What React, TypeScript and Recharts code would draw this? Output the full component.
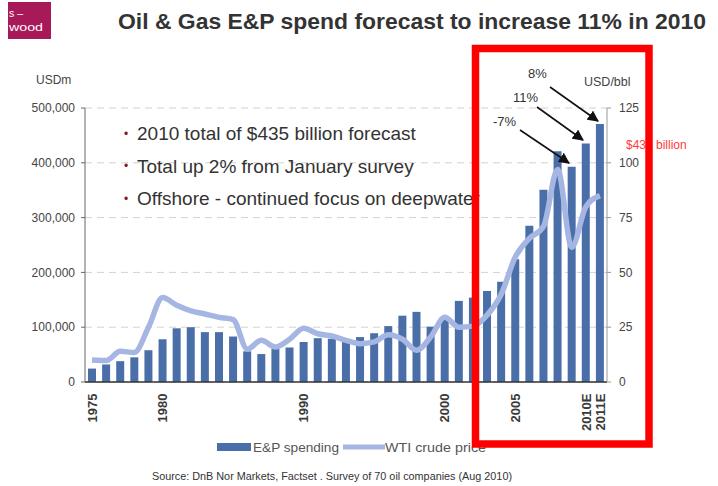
import React from 'react';
import { ComposedChart, Bar, Line, XAxis, YAxis, CartesianGrid } from 'recharts';

const years = ['1975','1976','1977','1978','1979','1980','1981','1982','1983','1984','1985','1986','1987','1988','1989','1990','1991','1992','1993','1994','1995','1996','1997','1998','1999','2000','2001','2002','2003','2004','2005','2006','2007','2008','2009','2010E','2011E'];
const spending = [24500, 32000, 38000, 45000, 58000, 78000, 98000, 100000, 91000, 91000, 83000, 56000, 51000, 61000, 63000, 73000, 80000, 79000, 77000, 82000, 89000, 102000, 121000, 128000, 101000, 114000, 148000, 154000, 166000, 183000, 224000, 285000, 351000, 421000, 393000, 435000, 471000];
const wti = [10, 9.8, 14, 13.5, 25, 38.5, 35, 32.5, 31, 29.5, 28.5, 15, 19, 16, 19.5, 24.5, 22, 21, 19, 17.5, 18.3, 21.5, 19.5, 14.5, 20.5, 29.5, 25, 25.5, 30.5, 40, 57, 65.5, 71, 97, 61.5, 80, 85];
const tickYears = ['1975', '1980', '1990', '2000', '2005', '2010E', '2011E'];
const leftTicks = [0, 100000, 200000, 300000, 400000, 500000];
const rightTicks = [0, 25, 50, 75, 100, 125];
const bullets = ['2010 total of $435 billion forecast', 'Total up 2% from January survey', 'Offshore - continued focus on deepwater'];

const data = years.map((y, i) => ({ year: y, spend: spending[i], wti: wti[i] }));

const FONT = '"Liberation Sans", Arial, sans-serif';
const BAR = '#4a6fa8';
const LINE = '#a6b6e3';

const XTick = (props: any) => {
  const { x, y, payload } = props;
  return (
    <g transform={`translate(${x},${y})`}>
      <text transform="rotate(-90)" x={-3.5} y={0} dy="0.36em" textAnchor="end" fontSize={13} fontWeight="bold" fill="#3a3a3a" fontFamily={FONT}>
        {payload.value}
      </text>
    </g>
  );
};

export default function App() {
  return (
    <div style={{ position: 'absolute', left: 0, top: 0, width: 718, height: 486, background: '#fff', fontFamily: FONT, overflow: 'hidden' }}>
      <div style={{ position: 'absolute', left: 0, top: 0 }}>
        <ComposedChart width={718} height={486} data={data} margin={{ top: 108, right: 61, bottom: 44, left: 25 }} barCategoryGap={0}>
          <CartesianGrid yAxisId="left" vertical={false} stroke="#d8cfcf" strokeDasharray="7 5" horizontalValues={leftTicks} />
          <XAxis dataKey="year" ticks={tickYears} interval={0} height={60} tick={<XTick />} tickLine={false} axisLine={{ stroke: '#333', strokeWidth: 1.5 }} />
          <YAxis yAxisId="left" domain={[0, 500000]} ticks={leftTicks} width={60} tickSize={4} tickMargin={6}
            tickFormatter={(v: number) => v.toLocaleString('en-US')}
            tick={{ fontSize: 12, fill: '#444', fontFamily: FONT }} axisLine={{ stroke: '#666' }} tickLine={{ stroke: '#666' }} />
          <YAxis yAxisId="right" orientation="right" domain={[0, 125]} ticks={rightTicks} width={50} tickSize={4} tickMargin={8}
            tick={{ fontSize: 12, fill: '#444', fontFamily: FONT }} axisLine={{ stroke: '#999' }} tickLine={{ stroke: '#999' }} />
          <Bar yAxisId="left" dataKey="spend" fill={BAR} barSize={8} isAnimationActive={false} />
          <Line yAxisId="right" dataKey="wti" type="monotone" stroke={LINE} strokeWidth={5.5} dot={false} isAnimationActive={false} />
        </ComposedChart>
      </div>
      <svg width={718} height={486} style={{ position: 'absolute', left: 0, top: 0, pointerEvents: 'none' }} fontFamily={FONT}>
        <defs>
          <marker id="ah" viewBox="0 0 10 10" refX="9" refY="5" markerWidth="7" markerHeight="7" orient="auto-start-reverse">
            <path d="M0,0 L10,5 L0,10 z" fill="#111" />
          </marker>
        </defs>
        <rect x={8} y={2} width={43} height={37} fill="#a8195a" />
        <text x={9} y={17} fontSize={10.5} fill="#fff">s –</text>
        <text x={9} y={31} fontSize={10.5} fill="#fff" textLength={34} lengthAdjust="spacingAndGlyphs">wood</text>
        <text x={118} y={29} fontSize={22.5} fontWeight="bold" fill="#333" textLength={588} lengthAdjust="spacingAndGlyphs">Oil &amp; Gas E&amp;P spend forecast to increase 11% in 2010</text>
        <text x={36} y={84} fontSize={12} fill="#444">USDm</text>
        <text x={584} y={86} fontSize={12.5} fill="#444">USD/bbl</text>
        {bullets.map((b, i) => (
          <g key={i}>
            <text x={124} y={137.5 + i * 32.5} fontSize={12} fill="#8b1414">•</text>
            <text x={137} y={140 + i * 32.5} fontSize={19} fill="#333">{b}</text>
          </g>
        ))}
        <text x={528} y={78} fontSize={13} fill="#333">8%</text>
        <text x={513} y={101.5} fontSize={13} fill="#333">11%</text>
        <text x={493} y={125.5} fontSize={13} fill="#333">-7%</text>
        <line x1={550} y1={87} x2={598} y2={121} stroke="#111" strokeWidth={1.6} markerEnd="url(#ah)" />
        <line x1={537} y1={107} x2={583} y2={140} stroke="#111" strokeWidth={1.6} markerEnd="url(#ah)" />
        <line x1={520} y1={130} x2={569} y2={163} stroke="#111" strokeWidth={1.6} markerEnd="url(#ah)" />
        <text x={626} y={149} fontSize={12} fill="#ff3b3b">$435 billion</text>
        <rect x={217} y={443} width={34} height={8} fill={BAR} />
        <text x={253} y={452} fontSize={13.5} fill="#555" textLength={86} lengthAdjust="spacingAndGlyphs">E&amp;P spending</text>
        <line x1={343} y1={447} x2={385} y2={447} stroke={LINE} strokeWidth={5} />
        <text x={385} y={452} fontSize={13.5} fill="#555" textLength={101} lengthAdjust="spacingAndGlyphs">WTI crude price</text>
        <text x={152} y={480} fontSize={10.5} fill="#333" textLength={360} lengthAdjust="spacingAndGlyphs">Source: DnB Nor Markets, Factset . Survey of 70 oil companies (Aug 2010)</text>
        <rect x={475.5} y={48.5} width={173.5} height={395.5} fill="none" stroke="#ff0000" strokeWidth={7.5} />
      </svg>
    </div>
  );
}
